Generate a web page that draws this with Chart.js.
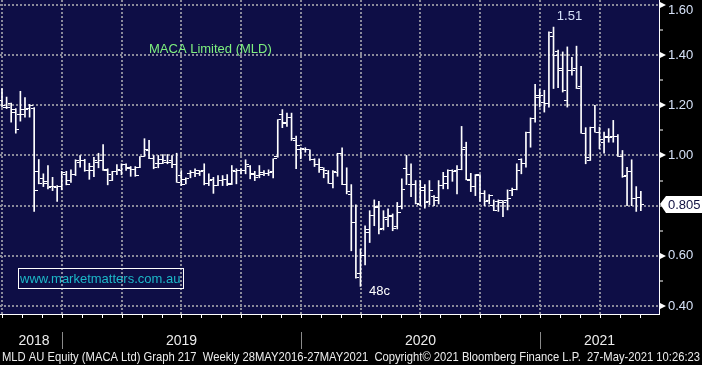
<!DOCTYPE html>
<html>
<head>
<meta charset="utf-8">
<script src="https://cdn.jsdelivr.net/npm/chart.js@4/dist/chart.umd.min.js"></script>
<style>
  html, body { margin: 0; padding: 0; background: #000; }
  #wrap { width: 702px; height: 365px; }
</style>
</head>
<body>
<div id="wrap"><canvas id="chart"></canvas></div>
<script>
// weekly bars, MLD AU, from Oct 2017 to 27 May 2021 (x = week number)
const opens = [
  1.22, 1.193, 1.207, 1.183, 1.163, 1.183, 1.187, 1.187, 0.936, 0.907,
  0.896, 0.876, 0.873, 0.876, 0.923, 0.90, 0.923, 0.973, 0.98, 0.94,
  0.94, 0.973, 0.98, 0.943, 0.90, 0.937, 0.94, 0.963, 0.951, 0.943,
  0.951, 0.996, 1.02, 0.987, 0.969, 0.983, 0.973, 0.98, 0.964, 0.92,
  0.903, 0.929, 0.933, 0.929, 0.94, 0.887, 0.903, 0.88, 0.90, 0.903,
  0.887, 0.937, 0.94, 0.94, 0.956, 0.924, 0.92, 0.933, 0.929, 0.937,
  0.996, 1.164, 1.133, 1.151, 1.06, 1.023, 1.023, 1.023, 0.983, 0.964,
  0.943, 0.927, 0.889, 0.933, 1.009, 0.884, 0.844, 0.731, 0.529, 0.60,
  0.703, 0.76, 0.793, 0.707, 0.743, 0.756, 0.716, 0.796, 0.947, 0.884,
  0.884, 0.804, 0.86, 0.817, 0.836, 0.833, 0.88, 0.887, 0.94, 0.94,
  0.943, 1.031, 0.90, 0.876, 0.92, 0.849, 0.82, 0.80, 0.817, 0.82,
  0.82, 0.86, 0.863, 0.983, 0.969, 1.09, 1.147, 1.24, 1.213, 1.207,
  1.473, 1.413, 1.34, 1.22, 1.337, 1.347, 1.277, 1.087, 0.98, 1.111,
  1.093, 1.053, 1.073, 1.076, 1.076, 0.996, 0.92, 0.937, 0.827, 0.833
];
const highs = [
  1.267, 1.233, 1.209, 1.187, 1.256, 1.231, 1.204, 1.191, 0.984, 0.927,
  0.96, 0.913, 0.88, 0.937, 0.937, 0.943, 0.983, 1.00, 0.985, 0.969,
  0.993, 1.009, 1.044, 0.947, 0.937, 0.964, 0.967, 0.967, 0.956, 0.956,
  0.996, 1.067, 1.06, 1.00, 1.00, 1.004, 1.004, 1.00, 1.009, 0.94,
  0.911, 0.94, 0.947, 0.94, 0.967, 0.927, 0.913, 0.92, 0.92, 0.924,
  0.96, 0.947, 0.947, 0.983, 0.96, 0.937, 0.96, 0.94, 0.943, 0.987,
  1.143, 1.183, 1.169, 1.169, 1.077, 1.031, 1.031, 1.023, 0.987, 0.987,
  0.951, 0.94, 0.94, 1.009, 1.031, 0.951, 0.884, 0.803, 0.627, 0.72,
  0.78, 0.823, 0.817, 0.78, 0.787, 0.767, 0.813, 0.907, 1.0, 0.967,
  0.90, 0.90, 0.884, 0.90, 0.84, 0.90, 0.933, 0.943, 0.943, 0.96,
  1.116, 1.053, 0.929, 0.924, 0.924, 0.86, 0.844, 0.823, 0.823, 0.82,
  0.863, 0.87, 0.967, 0.987, 1.093, 1.15, 1.284, 1.263, 1.26, 1.493,
  1.512, 1.42, 1.413, 1.433, 1.391, 1.436, 1.356, 1.111, 1.113, 1.20,
  1.113, 1.093, 1.107, 1.14, 1.083, 1.02, 0.953, 0.983, 0.876, 0.857
];
const lows = [
  1.193, 1.187, 1.133, 1.089, 1.137, 1.153, 1.153, 0.777, 0.887, 0.876,
  0.867, 0.86, 0.817, 0.863, 0.883, 0.893, 0.92, 0.953, 0.937, 0.905,
  0.916, 0.951, 0.94, 0.883, 0.90, 0.924, 0.923, 0.94, 0.917, 0.917,
  0.951, 0.996, 0.987, 0.947, 0.951, 0.967, 0.967, 0.951, 0.893, 0.88,
  0.887, 0.911, 0.916, 0.92, 0.883, 0.88, 0.849, 0.88, 0.88, 0.88,
  0.884, 0.887, 0.927, 0.927, 0.907, 0.90, 0.911, 0.92, 0.92, 0.911,
  0.993, 1.111, 1.116, 1.06, 0.947, 0.987, 1.013, 0.98, 0.956, 0.933,
  0.911, 0.889, 0.871, 0.917, 0.884, 0.847, 0.62, 0.511, 0.478, 0.564,
  0.653, 0.72, 0.687, 0.703, 0.716, 0.70, 0.707, 0.787, 0.884, 0.836,
  0.807, 0.80, 0.79, 0.804, 0.80, 0.807, 0.867, 0.867, 0.897, 0.847,
  0.943, 0.903, 0.856, 0.84, 0.817, 0.80, 0.807, 0.78, 0.777, 0.756,
  0.783, 0.84, 0.863, 0.927, 0.953, 1.033, 1.133, 1.193, 1.173, 1.193,
  1.267, 1.27, 1.253, 1.193, 1.32, 1.267, 1.089, 0.967, 0.98, 1.093,
  1.027, 1.009, 1.053, 1.053, 0.996, 0.913, 0.80, 0.80, 0.777, 0.78
];
const closes = [
  1.20, 1.193, 1.171, 1.103, 1.163, 1.183, 1.20, 0.86, 0.887, 0.887,
  0.873, 0.876, 0.876, 0.933, 0.883, 0.923, 0.98, 0.98, 0.94, 0.956,
  0.98, 0.98, 0.94, 0.923, 0.937, 0.943, 0.963, 0.947, 0.943, 0.92,
  0.996, 1.023, 0.987, 0.951, 0.969, 0.98, 0.973, 0.963, 0.893, 0.884,
  0.907, 0.933, 0.94, 0.937, 0.887, 0.90, 0.88, 0.90, 0.903, 0.884,
  0.94, 0.94, 0.94, 0.964, 0.927, 0.911, 0.924, 0.929, 0.933, 0.987,
  1.143, 1.127, 1.151, 1.067, 1.04, 1.027, 1.023, 0.983, 0.964, 0.953,
  0.94, 0.889, 0.937, 1.007, 0.884, 0.856, 0.733, 0.513, 0.60, 0.693,
  0.76, 0.796, 0.703, 0.753, 0.76, 0.707, 0.773, 0.863, 0.924, 0.884,
  0.807, 0.873, 0.813, 0.86, 0.82, 0.88, 0.916, 0.94, 0.937, 0.943,
  1.023, 0.903, 0.876, 0.924, 0.849, 0.817, 0.84, 0.78, 0.813, 0.813,
  0.827, 0.863, 0.94, 0.969, 1.091, 1.147, 1.233, 1.24, 1.209, 1.491,
  1.40, 1.347, 1.26, 1.337, 1.337, 1.267, 1.089, 0.993, 1.111, 1.093,
  1.063, 1.076, 1.073, 1.076, 0.996, 0.916, 0.937, 0.827, 0.833, 0.805
];

// axis stuff (in week numbers / price)
const yearLabels = ['2018', '2019', '2020', '2021'];
const yearStarts = [13.05, 65.05, 117.05];
const quarterLines = [0.05, 13.05, 26.05, 39.05, 52.05, 65.05, 78.05, 91.05, 104.05, 117.05, 130.05];
const priceTicks = [0.4, 0.5, 0.6, 0.7, 0.8, 0.9, 1.0, 1.1, 1.2, 1.3, 1.4, 1.5, 1.6];
const footer = 'MLD AU Equity (MACA Ltd) Graph 217  Weekly 28MAY2016-27MAY2021  Copyright\u00a9 2021 Bloomberg Finance L.P.  27-May-2021 10:26:23';

const NAVY = '#0e0e46';
const GRID = '#8a8a9a';
const LABEL = '#d6e2f8';
const LABEL_FONT = '13px "Liberation Sans", Arial, sans-serif';

// month ticks = each quarter split in 3
const monthTicks = [];
quarterLines.forEach(q => { monthTicks.push(q, q + 13 / 3, q + 26 / 3); });

const isMajor = v => Math.round(v * 10) % 2 === 0;
const topTick = priceTicks[priceTicks.length - 1];

function tickImage(side) {
    const c = document.createElement('canvas');
    c.width = 7; c.height = 1;
    const g = c.getContext('2d');
    g.fillStyle = '#ffffff';
    g.fillRect(side === 'left' ? 0 : 4, 0, 3, 1);
    return c;
}

// no auto padding, the plot must fill 0..659 x 0..314
function noPad(s) {
    s.paddingLeft = 0; s.paddingRight = 0; s.paddingTop = 0; s.paddingBottom = 0;
}

const decor = {
    id: 'decor',
    beforeDraw(chart) {
        const { ctx, chartArea: a } = chart;
        ctx.save();
        ctx.fillStyle = '#000';
        ctx.fillRect(0, 0, chart.width, chart.height);
        ctx.fillStyle = NAVY;
        ctx.fillRect(a.left, a.top, a.right - a.left, a.bottom - a.top);
        ctx.restore();
    },
    afterDraw(chart) {
        const { ctx, chartArea: a } = chart;
        const x = chart.scales.x, y = chart.scales.y;
        ctx.save();

        // little arrows on the price axis
        ctx.fillStyle = '#fff';
        priceTicks.filter(isMajor).forEach(v => {
            if (Math.round(v * 10) === 8) return;
            const py = Math.round(y.getPixelForValue(v));
            ctx.beginPath();
            ctx.moveTo(a.right + 1, py - 3);
            ctx.lineTo(a.right + 7, py);
            ctx.lineTo(a.right + 1, py + 3);
            ctx.closePath();
            ctx.fill();
        });

        // top price label pushed down so it is not cut off
        ctx.fillStyle = LABEL;
        ctx.font = LABEL_FONT;
        ctx.textAlign = 'left';
        ctx.textBaseline = 'middle';
        ctx.fillText(topTick.toFixed(2), a.right + 9, Math.max(y.getPixelForValue(topTick), 10));

        // month ticks under the plot
        ctx.strokeStyle = '#fff';
        ctx.lineWidth = 1;
        monthTicks.forEach(w => {
            const px = Math.round(x.getPixelForValue(w)) + 0.5;
            ctx.beginPath();
            ctx.moveTo(px, a.bottom);
            ctx.lineTo(px, a.bottom + 4);
            ctx.stroke();
        });

        // years
        ctx.strokeStyle = '#8a8a8a';
        yearStarts.forEach(w => {
            const px = Math.round(x.getPixelForValue(w)) + 0.5;
            ctx.beginPath();
            ctx.moveTo(px, 332);
            ctx.lineTo(px, 349);
            ctx.stroke();
        });
        const edges = [a.left].concat(yearStarts.map(w => x.getPixelForValue(w)), [a.right]);
        ctx.fillStyle = '#ececec';
        ctx.font = '14px "Liberation Sans Narrow", "Liberation Sans", sans-serif';
        ctx.textAlign = 'center';
        yearLabels.forEach((t, i) => {
            ctx.fillText(t, (edges[i] + edges[i + 1]) / 2 + (i === 0 ? 3 : 0), 341);
        });

        // footer
        ctx.textAlign = 'left';
        ctx.font = '13px "Liberation Sans Narrow", "Liberation Sans", sans-serif';
        ctx.fillText(footer, 2, 357, 698);

        // title
        ctx.font = LABEL_FONT;
        ctx.fillStyle = '#7ef07e';
        ctx.fillText('MACA Limited (MLD)', 149, 49);

        // website box
        ctx.strokeStyle = '#ffffff';
        ctx.strokeRect(18.5, 268.5, 165, 20);
        ctx.fillStyle = '#1cb8c8';
        ctx.fillText('www.marketmatters.com.au', 20, 279);

        // high / low notes
        let hi = 0, lo = 0;
        highs.forEach((v, i) => { if (v > highs[hi]) hi = i; });
        lows.forEach((v, i) => { if (v < lows[lo]) lo = i; });
        ctx.textAlign = 'center';
        ctx.fillStyle = LABEL;
        ctx.fillText(highs[hi].toFixed(2), x.getPixelForValue(hi) + 16, y.getPixelForValue(highs[hi]) - 11);
        ctx.fillStyle = '#ffffff';
        ctx.fillText(Math.round(lows[lo] * 100) + 'c', x.getPixelForValue(lo) + 19, y.getPixelForValue(lows[lo]) + 5);

        // last price tag
        const last = closes[closes.length - 1];
        const py = Math.round(y.getPixelForValue(last));
        ctx.fillStyle = '#ffffff';
        ctx.beginPath();
        ctx.moveTo(a.right + 1, py);
        ctx.lineTo(a.right + 7, py - 8);
        ctx.lineTo(chart.width, py - 8);
        ctx.lineTo(chart.width, py + 9);
        ctx.lineTo(a.right + 7, py + 9);
        ctx.closePath();
        ctx.fill();
        ctx.fillStyle = '#101040';
        ctx.textAlign = 'left';
        ctx.fillText(last.toFixed(3), 668, py + 1);

        ctx.restore();
    }
};

new Chart(document.getElementById('chart'), {
    type: 'line',
    data: {
        datasets: [
            {
                type: 'bar',
                data: highs.map((h, i) => ({ x: i, y: [lows[i], h] })),
                backgroundColor: '#ffffff',
                borderWidth: 0,
                barThickness: 1,
                grouped: false
            },
            {
                data: opens.map((v, i) => ({ x: i, y: v })),
                showLine: false,
                pointStyle: tickImage('left'),
                pointRadius: 3
            },
            {
                data: closes.map((v, i) => ({ x: i, y: v })),
                showLine: false,
                pointStyle: tickImage('right'),
                pointRadius: 3
            }
        ]
    },
    options: {
        responsive: true,
        maintainAspectRatio: false,
        animation: false,
        events: [],
        layout: { padding: 0, autoPadding: false },
        plugins: { legend: { display: false }, tooltip: { enabled: false } },
        scales: {
            x: {
                type: 'linear',
                min: -0.435,
                max: 142.95,
                offset: false,
                afterBuildTicks: s => { s.ticks = quarterLines.map(v => ({ value: v })); },
                afterFit: s => { s.height = 51; noPad(s); },
                ticks: { display: false },
                grid: { color: GRID, lineWidth: 2, drawTicks: false, offset: false },
                border: { display: true, color: '#ffffff', width: 1, dash: [2, 2] }
            },
            y: {
                position: 'right',
                min: 0.368,
                max: 1.62,
                afterBuildTicks: s => { s.ticks = priceTicks.map(v => ({ value: v })); },
                afterFit: s => { s.width = 43; noPad(s); },
                ticks: {
                    color: LABEL,
                    padding: 5,
                    font: { family: '"Liberation Sans", Arial, sans-serif', size: 13 },
                    // 0.80 sits under the last price tag, 1.60 is drawn by the plugin
                    callback: v => (isMajor(v) && Math.round(v * 10) !== 8 && v !== topTick) ? v.toFixed(2) : ''
                },
                grid: {
                    color: c => isMajor(c.tick.value) ? GRID : 'rgba(0,0,0,0)',
                    lineWidth: 2,
                    tickLength: 4,
                    tickColor: '#ffffff',
                    tickWidth: 1,
                    tickBorderDash: []
                },
                border: { display: true, color: '#ffffff', width: 1, dash: [2, 2] }
            }
        }
    },
    plugins: [decor]
});
</script>
</body>
</html>
